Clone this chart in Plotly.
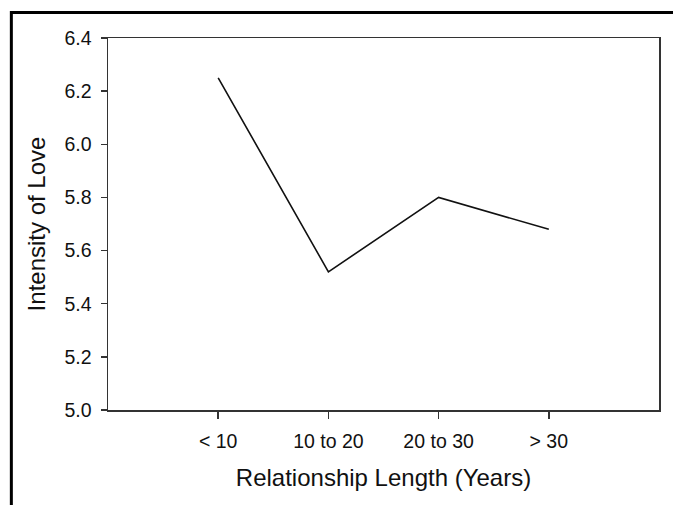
import plotly.graph_objects as go

categories = ["< 10", "10 to 20", "20 to 30", "> 30"]
intensity = [6.25, 5.52, 5.80, 5.68]
y_ticks = [5.0, 5.2, 5.4, 5.6, 5.8, 6.0, 6.2, 6.4]
x_title = "Relationship Length (Years)"
y_title = "Intensity of Love"

W, H = 673, 505
ml, mr, mt, mb = 108, 12, 38, 95
pw, ph = W - ml - mr, H - mt - mb

fig = go.Figure()
fig.add_trace(go.Scatter(
    x=list(range(len(categories))), y=intensity, mode="lines",
    line=dict(color="#111111", width=1.6), showlegend=False, hoverinfo="skip",
))

font_family = "Liberation Sans, Arial, sans-serif"

fig.update_layout(
    width=W, height=H,
    margin=dict(l=ml, r=mr, t=mt, b=mb),
    paper_bgcolor="white", plot_bgcolor="white",
    font=dict(family=font_family, color="#111111"),
    xaxis=dict(
        range=[-1, 4], tickmode="array",
        tickvals=list(range(len(categories))), ticktext=categories,
        showgrid=False, zeroline=False,
        showline=True, linecolor="#333333", linewidth=1.5, mirror=True,
        ticks="outside", ticklen=7, tickwidth=1.5, tickcolor="#333333",
        tickfont=dict(size=19.5, family=font_family, color="#111111"),
        ticklabelstandoff=6,
        title=dict(text=x_title, font=dict(size=24, family=font_family, color="#111111"), standoff=18),
    ),
    yaxis=dict(
        range=[5.0, 6.4], tickmode="array", tickvals=y_ticks,
        ticktext=[f"{v:.1f}" for v in y_ticks],
        showgrid=False, zeroline=False,
        showline=True, linecolor="#333333", linewidth=1.5, mirror=True,
        ticks="outside", ticklen=6, tickwidth=1.5, tickcolor="#333333",
        tickfont=dict(size=19.5, family=font_family, color="#111111"),
        ticklabelstandoff=5,
        title=dict(text=y_title, font=dict(size=24, family=font_family, color="#111111"), standoff=12),
    ),
)

# outer frame of the figure (cut off at right and bottom edges)
def px_x(p):
    return (p - ml) / pw

def px_y(p):
    return (H - mb - p) / ph

fig.add_shape(type="rect", xref="paper", yref="paper",
              x0=px_x(11), x1=px_x(690), y0=px_y(530), y1=px_y(12.5),
              line=dict(color="black", width=3), fillcolor="rgba(0,0,0,0)", layer="above")

fig.write_html("out.html",
               config={"displayModeBar": False, "staticPlot": True},
               post_script="document.body.style.margin='0';document.body.style.overflow='hidden';")
